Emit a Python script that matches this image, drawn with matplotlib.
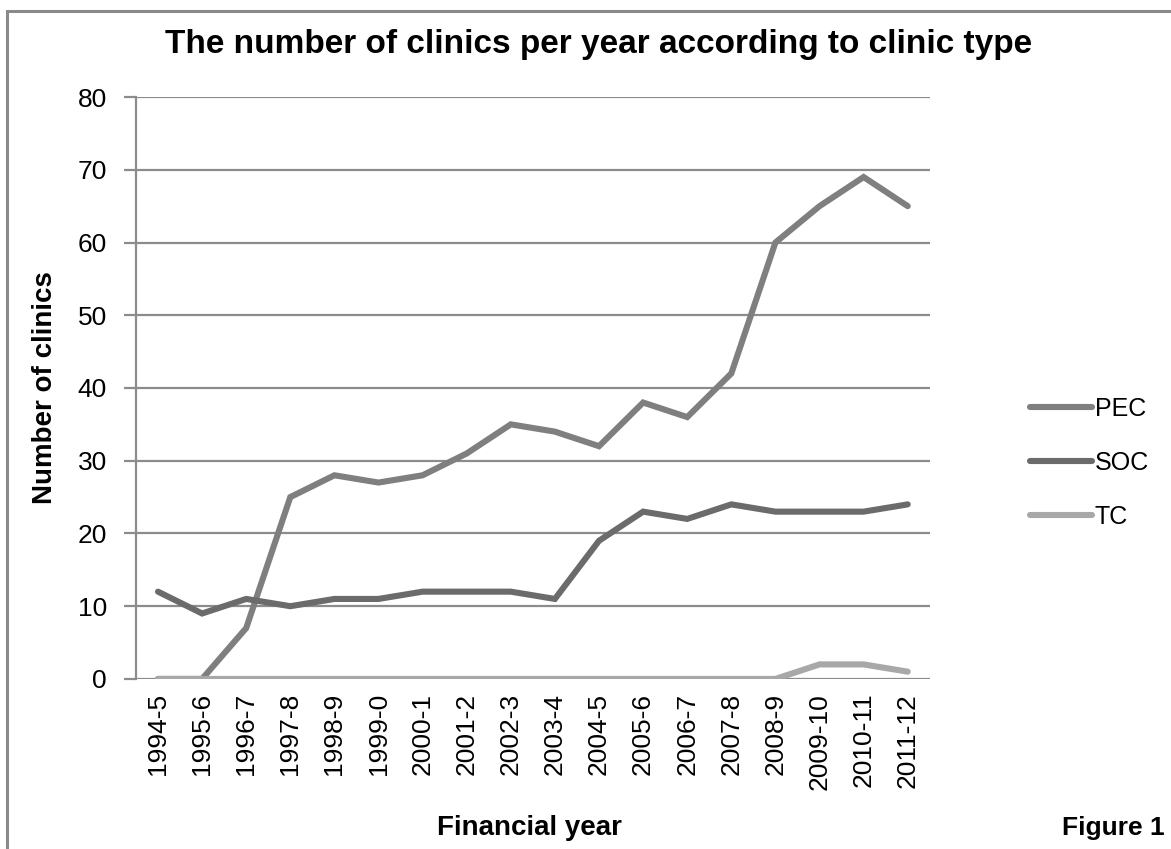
import matplotlib
matplotlib.use("Agg")
import matplotlib.pyplot as plt
from matplotlib.lines import Line2D
from matplotlib.patches import Rectangle

plt.rcParams["font.family"] = ["Liberation Sans", "DejaVu Sans"]

years = ["1994-5", "1995-6", "1996-7", "1997-8", "1998-9", "1999-0", "2000-1",
         "2001-2", "2002-3", "2003-4", "2004-5", "2005-6", "2006-7", "2007-8",
         "2008-9", "2009-10", "2010-11", "2011-12"]
pec = [0, 0, 7, 25, 28, 27, 28, 31, 35, 34, 32, 38, 36, 42, 60, 65, 69, 65]
soc = [12, 9, 11, 10, 11, 11, 12, 12, 12, 11, 19, 23, 22, 24, 23, 23, 23, 24]
tc = [0, 0, 0, 0, 0, 0, 0, 0, 0, 0, 0, 0, 0, 0, 0, 2, 2, 1]

series = [("PEC", pec, "#7f7f7f"), ("SOC", soc, "#6b6b6b"), ("TC", tc, "#a8a8a8")]

GRID = "#8c8c8c"

fig = plt.figure(figsize=(11.71, 8.49), dpi=100)
ax = fig.add_axes([0.1161, 0.2003, 0.6779, 0.6854])

# outer frame (top + left only, as in the scan)
fig.add_artist(Rectangle((0.006, -0.05), 1.2, 1.037, transform=fig.transFigure,
                         fill=False, edgecolor="#8a8a8a", linewidth=2.2))

x = list(range(len(years)))
for name, vals, col in series:
    ax.plot(x, vals, color=col, lw=4.4, solid_capstyle="round",
            solid_joinstyle="miter", zorder=3, label=name)

ax.set_xlim(-0.5, len(years) - 0.5)
ax.set_ylim(0, 80)
ax.set_yticks(range(0, 81, 10))
ax.yaxis.grid(True, color=GRID, lw=1.6)
ax.set_axisbelow(True)
ax.set_xticks(x)
ax.set_xticklabels(years, rotation=90, fontsize=19)
ax.tick_params(axis="x", length=0, pad=10)
ax.tick_params(axis="y", labelsize=19, length=9, width=1.6, color=GRID, pad=12)
for s in ("top", "right", "bottom"):
    ax.spines[s].set_visible(False)
ax.spines["left"].set_color(GRID)
ax.spines["left"].set_linewidth(1.6)

ax.set_ylabel("Number of clinics", fontsize=20, fontweight="bold", labelpad=14)

fig.text(0.511, 0.947, "The number of clinics per year according to clinic type",
         ha="center", va="center", fontsize=24, fontweight="bold")
fig.text(0.452, 0.025, "Financial year", ha="center", va="center",
         fontsize=20, fontweight="bold")
fig.text(0.951, 0.025, "Figure 1", ha="center", va="center",
         fontsize=19, fontweight="bold")

handles = [Line2D([], [], color=c, lw=4.4, solid_capstyle="round") for _, _, c in series]
fig.legend(handles, [n for n, _, _ in series], loc="center left",
           bbox_to_anchor=(0.86, 0.455), frameon=False, fontsize=18,
           handlelength=2.5, handletextpad=0.1, labelspacing=1.2)

fig.savefig("out.png", dpi=100, facecolor="white")
